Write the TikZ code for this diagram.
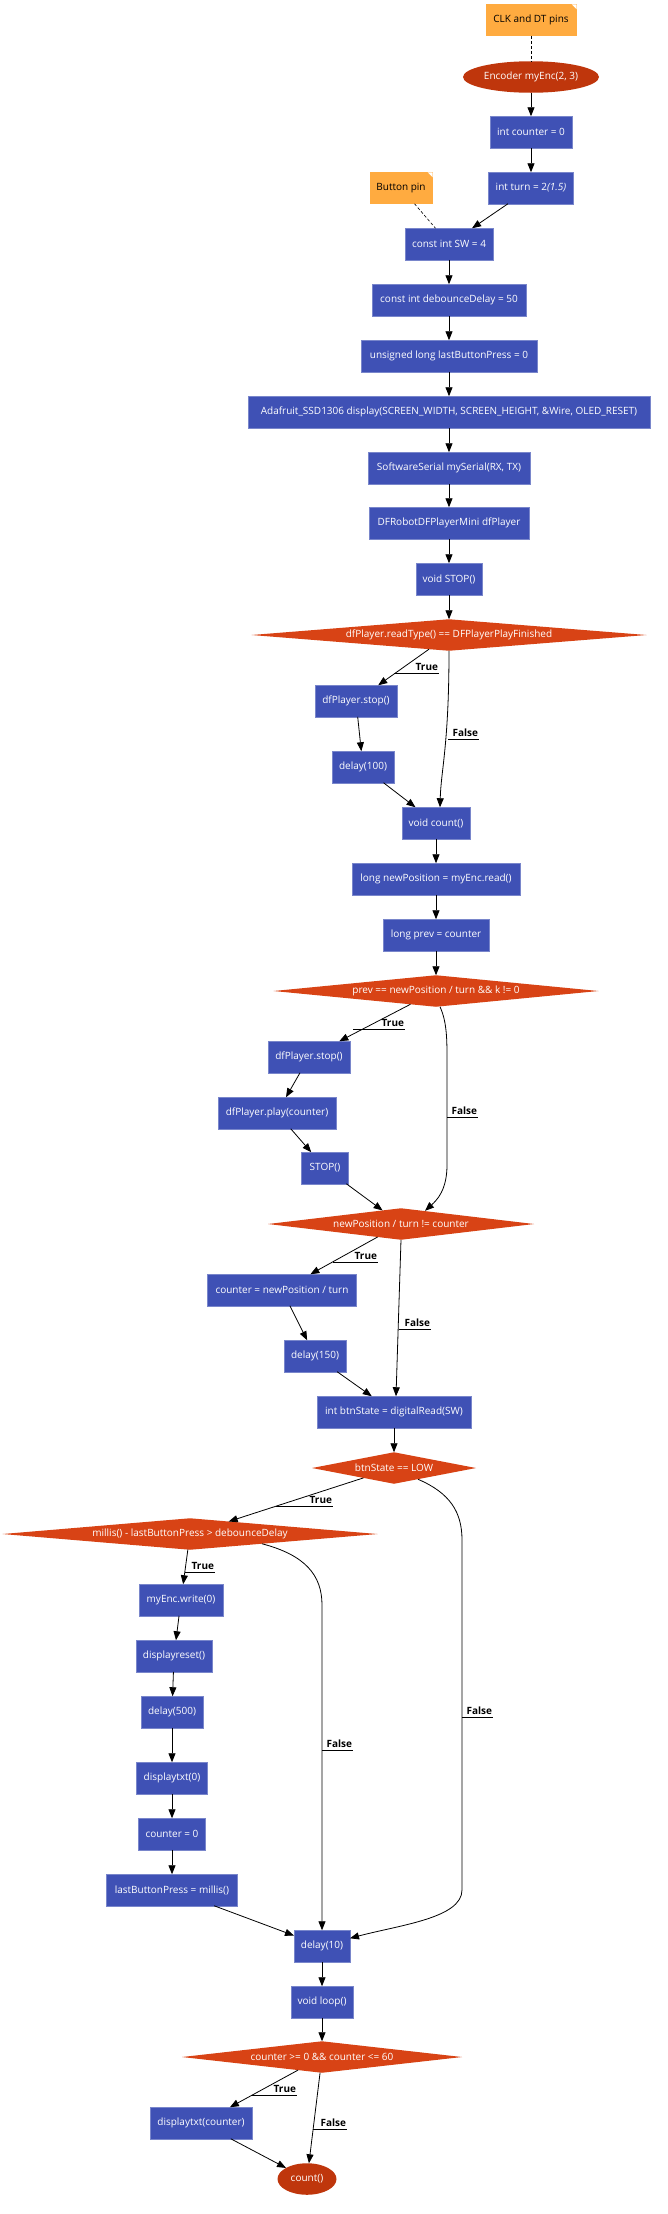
\documentclass[tikz,border=0pt]{standalone}
\usepackage{fontspec}
\setmainfont{Open Sans}
\usetikzlibrary{shapes.geometric,arrows.meta}
\definecolor{boxc}{HTML}{3F51B5}
\definecolor{boxb}{HTML}{7986CB}
\definecolor{decc}{HTML}{D84315}
\definecolor{ellc}{HTML}{BF360C}
\definecolor{notec}{HTML}{FFAB40}
\newcommand{\dtx}[1]{\makebox[0pt]{#1}}
\newcommand{\ulab}[5]{\node[lbl] (#1) at ({#4-1},{#5-2.5}) {#2};\draw[ul] (#3,#5) -- (#4,#5);}
\tikzset{
 every node/.style={font=\fontsize{10}{12}\selectfont, inner sep=0pt, outer sep=0pt},
 box/.style={rectangle, fill=boxc, draw=boxb, line width=0.5pt, text=white, minimum height=31.5pt},
 dec/.style={diamond, aspect=1, fill=decc, text=white, minimum height=31.5pt},
 term/.style={ellipse, fill=ellc, text=white, minimum height=31.5pt},
 notebox/.style={rectangle, fill=notec, text=black, minimum height=31.5pt},
 flow/.style={draw=black, line width=0.8pt, -{Triangle[length=9pt,width=7pt]}},
 notelink/.style={draw=black, line width=0.6pt, dash pattern=on 3pt off 2pt},
 lbl/.style={font=\fontsize{10}{12}\selectfont\bfseries, text=black, anchor=base east},
 ul/.style={draw=black, line width=0.6pt},
}
\begin{document}
\begin{tikzpicture}[x=1pt,y=-1pt]
\useasboundingbox (0,0) rectangle (667,2214);
% notes
\node[notebox, minimum width=91pt] (clk) at (531,20) {CLK and DT pins};
\fill[white] ([xshift=-5pt]clk.north east) -- (clk.north east) -- ([yshift=-5pt]clk.north east) -- cycle;
\node[notebox, minimum width=63pt] (bpin) at (401,188) {Button pin};
\fill[white] ([xshift=-5pt]bpin.north east) -- (bpin.north east) -- ([yshift=-5pt]bpin.north east) -- cycle;
% nodes
\node[term, minimum width=136pt] (enc) at (531,77) {Encoder myEnc(2, 3)};
\node[box, minimum width=82pt] (c0a) at (531,132) {int counter = 0};
\node[box, minimum width=85pt] (turn) at (531,188) {int turn = 2\textit{(1.5)}};
\node[box, minimum width=88pt] (sw) at (449,244) {const int SW = 4};
\node[box, minimum width=154pt] (deb) at (449,300) {const int debounceDelay = 50};
\node[box, minimum width=176pt] (lbp) at (449,356) {unsigned long lastButtonPress = 0};
\node[box, minimum width=402pt] (ada) at (449,412) {Adafruit\_SSD1306 display(SCREEN\_WIDTH, SCREEN\_HEIGHT, \&Wire, OLED\_RESET)};
\node[box, minimum width=162pt] (ss) at (449,468) {SoftwareSerial mySerial(RX, TX)};
\node[box, minimum width=160pt] (dfr) at (449,523) {DFRobotDFPlayerMini dfPlayer};
\node[box, minimum width=66pt] (stopa) at (449,579) {void STOP()};
\node[dec, minimum width=395pt] (d1) at (449,635) {\dtx{dfPlayer.readType() == DFPlayerPlayFinished}};
\node[box, minimum width=82pt] (stopb) at (356,701) {dfPlayer.stop()};
\node[box, minimum width=62pt] (del100) at (363,767) {delay(100)};
\node[box, minimum width=68pt] (cnt) at (436,823) {void count()};
\node[box, minimum width=168pt] (newpos) at (436,879) {long newPosition = myEnc.read()};
\node[box, minimum width=106pt] (prev) at (436,935) {long prev = counter};
\node[dec, minimum width=325pt] (d2) at (436,991) {\dtx{prev == newPosition / turn \&\& k != 0}};
\node[box, minimum width=82pt] (stopc) at (309,1057) {dfPlayer.stop()};
\node[box, minimum width=118pt] (play) at (277,1113) {dfPlayer.play(counter)};
\node[box, minimum width=47pt] (stopd) at (325,1168) {STOP()};
\node[dec, minimum width=266pt] (d3) at (401,1224) {\dtx{newPosition / turn != counter}};
\node[box, minimum width=149pt] (cnp) at (282,1290) {counter = newPosition / turn};
\node[box, minimum width=62pt] (del150) at (315,1356) {delay(150)};
\node[box, minimum width=154pt] (btn) at (394,1412) {int btnState = digitalRead(SW)};
\node[dec, minimum width=164pt] (d5) at (394,1468) {\dtx{btnState == LOW}};
\node[dec, minimum width=375pt] (d6) at (190,1534) {\dtx{millis() - lastButtonPress > debounceDelay}};
\node[box, minimum width=84pt] (encw) at (181,1600) {myEnc.write(0)};
\node[box, minimum width=76pt] (dres) at (174,1656) {displayreset()};
\node[box, minimum width=62pt] (del500) at (172,1712) {delay(500)};
\node[box, minimum width=71pt] (dtxt0) at (172,1778) {displaytxt(0)};
\node[box, minimum width=67pt] (cz) at (172,1834) {counter = 0};
\node[box, minimum width=131pt] (lbpm) at (172,1890) {lastButtonPress = millis()};
\node[box, minimum width=56pt] (del10) at (322,1946) {delay(10)};
\node[box, minimum width=62pt] (loop) at (322,2002) {void loop()};
\node[dec, minimum width=280pt] (d4) at (322,2057) {\dtx{counter >= 0 \&\& counter <= 60}};
\node[box, minimum width=102pt] (dtxtc) at (201,2123) {displaytxt(counter)};
\node[term, minimum width=59pt] (cnte) at (307,2179) {count()};
% note links
\draw[notelink] (clk) -- (enc);
\draw[notelink] (bpin) -- (sw);
% straight flow
\draw[flow] (enc) -- (c0a);
\draw[flow] (c0a) -- (turn);
\draw[flow] (turn) -- (sw);
\draw[flow] (sw) -- (deb);
\draw[flow] (deb) -- (lbp);
\draw[flow] (lbp) -- (ada);
\draw[flow] (ada) -- (ss);
\draw[flow] (ss) -- (dfr);
\draw[flow] (dfr) -- (stopa);
\draw[flow] (stopa) -- (d1);
\draw[flow] (d1) -- (stopb);
\draw[flow] (stopb) -- (del100);
\draw[flow] (del100) -- (cnt);
\draw[flow] (d1.south) .. controls (449,745) and (441,770) .. ([xshift=4pt]cnt.north);
\draw[flow] (cnt) -- (newpos);
\draw[flow] (newpos) -- (prev);
\draw[flow] (prev) -- (d2);
\draw[flow] (d2) -- (stopc);
\draw[flow] (stopc) -- (play);
\draw[flow] (play) -- (stopd);
\draw[flow] (stopd) -- (d3);
\draw[flow] ([xshift=4pt]d2.south) .. controls (447,1022) and (447,1040) .. (447,1060) -- (447,1165) .. controls (447,1190) and (437,1200) .. ([xshift=24pt,yshift=13.2pt]d3.center);
\draw[flow] (d3) -- (cnp);
\draw[flow] (cnp) -- (del150);
\draw[flow] (del150) -- (btn);
\draw[flow] (d3.south) -- ([xshift=2pt]btn.north);
\draw[flow] (btn) -- (d5);
\draw[flow] (d5) -- (d6);
\draw[flow] (d6) -- (encw);
\draw[flow] (encw) -- (dres);
\draw[flow] (dres) -- (del500);
\draw[flow] (del500) -- (dtxt0);
\draw[flow] (dtxt0) -- (cz);
\draw[flow] (cz) -- (lbpm);
\draw[flow] (lbpm) -- (del10);
\draw[flow] ([xshift=72pt,yshift=6pt]d6.south) .. controls (305,1555) and (322,1575) .. (322,1605) -- (del10.north);
\draw[flow] ([xshift=24pt,yshift=4.5pt]d5.south) .. controls (450,1493) and (462,1512) .. (462,1540) -- (462,1890) .. controls (462,1918) and (400,1925) .. ([yshift=-8pt]del10.north east);
\draw[flow] (del10) -- (loop);
\draw[flow] (loop) -- (d4);
\draw[flow] (d4) -- (dtxtc);
\draw[flow] (d4) -- (cnte);
\draw[flow] (dtxtc) -- (cnte);
% labels
\ulab{lt1}{True}{394}{439}{673}
\ulab{lf1}{False}{448}{479}{739}
\ulab{lt2}{True}{353}{405}{1029}
\ulab{lf2}{False}{447}{478}{1117}
\ulab{lt3}{True}{333}{378}{1262}
\ulab{lf3}{False}{399}{431}{1329}
\ulab{lt4}{True}{276}{333}{1506}
\ulab{lt5}{True}{185}{215}{1572}
\ulab{lf5}{False}{322}{353}{1750}
\ulab{lf4}{False}{462}{493}{1717}
\ulab{lt6}{True}{252}{297}{2095}
\ulab{lf6}{False}{313}{347}{2129}
\end{tikzpicture}
\end{document}
